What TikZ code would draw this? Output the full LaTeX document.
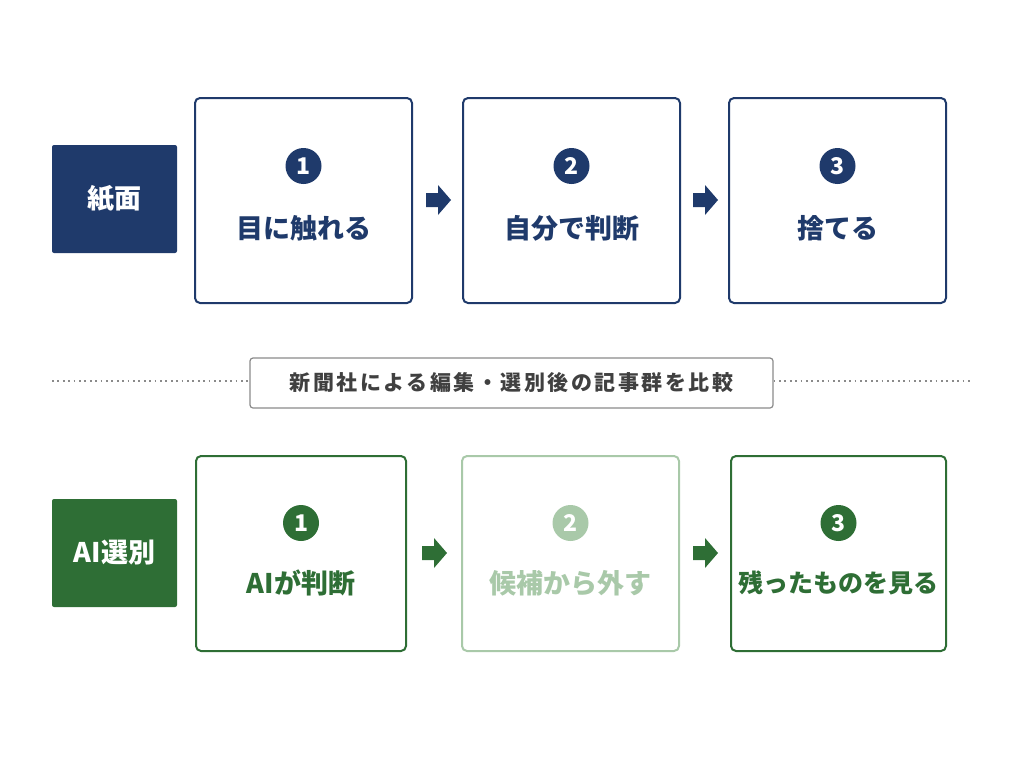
\documentclass[tikz,border=0pt]{standalone}
\usepackage{fontspec}
\setmainfont{Noto Sans CJK JP}
\definecolor{navy}{HTML}{1F3A6B}
\definecolor{grn}{HTML}{2E6E35}
\definecolor{pale}{HTML}{A9C9A9}
\definecolor{gr}{HTML}{8A8A8A}
\begin{document}
\begin{tikzpicture}[x=1pt,y=-1pt,
 lab/.style={fill=#1,rounded corners=2pt,minimum width=125pt,minimum height=108pt,text=white,font=\fontsize{27pt}{30pt}\selectfont\bfseries,inner sep=0pt},
 step/.style={draw=#1,line width=2pt,rounded corners=5pt,minimum width=217pt,minimum height=205pt,inner sep=0pt},
 num/.style={circle,fill=#1,minimum size=36pt,inner sep=0pt,text=white,font=\fontsize{23pt}{24pt}\selectfont\bfseries},
 txt/.style={text=#1,font=\fontsize{27pt}{30pt}\selectfont\bfseries,inner sep=0pt}]
\useasboundingbox (0,0) rectangle (1024,768);
% top
\node[lab=navy] (L1) at (114.5,199) {紙面};
\node[step=navy] (a1) at (303.5,200.5) {};
\node[step=navy] (a2) at (571.5,200.5) {};
\node[step=navy] (a3) at (837.5,200.5) {};
\node[num=navy] (n1) at (303.5,166) {1};
\node[num=navy] (n2) at (571.5,166) {2};
\node[num=navy] (n3) at (837.5,166) {3};
\node[txt=navy] (t1) at (303.5,228) {目に触れる};
\node[txt=navy] (t2) at (571.5,228) {自分で判断};
\node[txt=navy] (t3) at (837.5,228) {捨てる};
\foreach \x/\c in {438/navy,705/navy}
  \fill[\c] (\x-12,200-7) -- (\x,200-7) -- (\x,200-15) -- (\x+13,200) -- (\x,200+15) -- (\x,200+7) -- (\x-12,200+7) -- cycle;
% middle
\node[draw=gr,line width=1.2pt,rounded corners=3pt,minimum width=523pt,minimum height=50pt,inner sep=0pt,font=\fontsize{21pt}{22pt}\selectfont\bfseries\addfontfeatures{LetterSpace=12},text=black!75] (m) at (511.5,383) {新聞社による編集・選別後の記事群を比較};
\coordinate (d1) at (52,381); \coordinate (d2) at (970,381);
\draw[gr,line width=1.8pt,dash pattern=on 1.8pt off 3.6pt] (d1) -- (d1 -| m.west);
\draw[gr,line width=1.8pt,dash pattern=on 1.8pt off 3.6pt] (d2 -| m.east) -- (d2);
% bottom
\node[lab=grn] (L2) at (114.5,553) {AI選別};
\node[step=grn,minimum width=210pt,minimum height=195pt] (b1) at (301,553.5) {};
\node[step=pale,minimum height=195pt] (b2) at (570.5,553.5) {};
\node[step=grn,minimum width=215pt,minimum height=195pt] (b3) at (838.5,553.5) {};
\node[num=grn] (m1) at (301,523) {1};
\node[num=pale] (m2) at (570.5,523) {2};
\node[num=grn] (m3) at (838.5,523) {3};
\node[txt=grn] (s1) at (301,583) {AIが判断};
\node[txt=pale] (s2) at (570.5,583) {候補から外す};
\node[txt=grn,font=\fontsize{25pt}{28pt}\selectfont\bfseries] (s3) at (838.5,583) {残ったものを見る};
\foreach \x/\c in {434/grn,705/grn}
  \fill[\c] (\x-12,553-7) -- (\x,553-7) -- (\x,553-15) -- (\x+13,553) -- (\x,553+15) -- (\x,553+7) -- (\x-12,553+7) -- cycle;
\end{tikzpicture}
\end{document}
